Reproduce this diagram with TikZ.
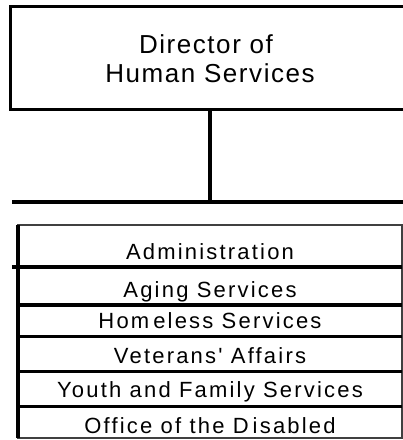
\documentclass[tikz,border=0pt]{standalone}
\usepackage{fontspec}
\setmainfont{Liberation Sans}
\newfontfamily\headfont{Liberation Sans}[LetterSpace=6]
\newfontfamily\unitfont{Liberation Sans}[LetterSpace=10]
\begin{document}
\begin{tikzpicture}[x=1pt,y=-1pt,
  headbox/.style={draw=black, line width=3pt, rectangle, minimum width=400pt,
    minimum height=103.5pt, inner sep=0pt},
  headlabel/.style={anchor=base, inner sep=0pt, font=\headfont\fontsize{26}{29}\selectfont},
  unitrow/.style={rectangle, minimum width=384pt, inner sep=0pt},
  unitlabel/.style={anchor=base, inner sep=0pt, font=\unitfont\fontsize{22}{24}\selectfont},
  link/.style={draw=black, line width=4pt},
  divider/.style={draw=black, line width=3.5pt},
  frame/.style={draw=black!75, line width=1.6pt}
]
\useasboundingbox (0,0) rectangle (403,440);
\fill[white] (0,0) rectangle (403,440);

% head of department
\node[headbox] (dir) at (210,57.75) {};
\node[headlabel] (dir1) at (206,53) {Director of};
\node[headlabel] (dir2) at (210,82) {Human Services};

% connector down to the bar
\coordinate (barL) at (12,202);
\coordinate (barR) at (410,202);
\coordinate (barM) at (210,202);
\draw[link] (dir.south -| barM) -- (barM);
\draw[link] (barL) -- (barR);

% stacked divisions
\node[unitrow, minimum height=42pt]   (r1) at (210,246) {};
\node[unitrow, minimum height=38pt]   (r2) at (210,286) {};
\node[unitrow, minimum height=31.5pt] (r3) at (210,320.75) {};
\node[unitrow, minimum height=35pt]   (r4) at (210,354) {};
\node[unitrow, minimum height=35pt]   (r5) at (210,389) {};
\node[unitrow, minimum height=31.5pt] (r6) at (210,422.25) {};

\node[unitlabel] (t1) at (210,259) {Administration};
\node[unitlabel] (t2) at (210,297) {Aging Services};
\node[unitlabel] (t3) at (210,328) {Hom\hspace{4pt}eless Services};
\node[unitlabel] (t4) at (210,363) {Veterans' Affairs};
\node[unitlabel] (t5) at (210,397) {Youth and Family Services};
\node[unitlabel] (t6) at (210,433) {Office of the D\hspace{4pt}isabled};

% outline of the stack
\draw[frame] (r1.north west) rectangle (r6.south east);
\draw[draw=black, line width=4pt] (r1.north west) -- (r6.south west);
% row dividers
\draw[divider] ([xshift=-6pt]r1.south west) -- (r1.south east);
\draw[divider] (r2.south west) -- (r2.south east);
\draw[divider] (r3.south west) -- (r3.south east);
\draw[divider] (r4.south west) -- (r4.south east);
\draw[divider] (r5.south west) -- (r5.south east);
\end{tikzpicture}
\end{document}
